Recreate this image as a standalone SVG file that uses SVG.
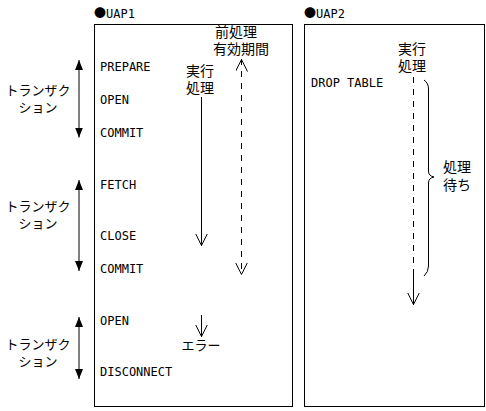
<svg xmlns="http://www.w3.org/2000/svg" width="486" height="411" viewBox="0 0 486 411">
<style>
.box{fill:none;stroke:#000;stroke-width:1}
.cmd{font-family:"DejaVu Sans Mono","Liberation Mono",monospace;font-size:12px;fill:#000}
.jp{font-family:"Liberation Sans","Noto Sans CJK JP",sans-serif;font-size:14px;fill:#000}
.kt{font-family:"Liberation Sans","Noto Sans CJK JP",sans-serif;font-size:13px;fill:#000;text-anchor:middle}
.dot{font-family:"Noto Sans CJK JP",sans-serif}
.ln{stroke:#000;stroke-width:1;fill:none}
.dash{stroke-dasharray:6 6}
</style>
<defs>
<marker id="fa" markerUnits="userSpaceOnUse" markerWidth="12" markerHeight="10" refX="10" refY="4" orient="auto-start-reverse"><path d="M0,0 L10,4 L0,8 z" fill="#000"/></marker>
<marker id="va" markerUnits="userSpaceOnUse" markerWidth="14" markerHeight="14" refX="12.5" refY="6" orient="auto-start-reverse"><path d="M0,0 L12,6 L0,12" fill="none" stroke="#000" stroke-width="1" stroke-dasharray="none"/></marker>
</defs>

<g id="uap1">
<text class="cmd" x="94" y="18"><tspan class="dot">●</tspan>UAP1</text>
<rect class="box" x="94.5" y="24.5" width="198" height="382"/>
<text class="cmd" x="100" y="71">PREPARE</text>
<text class="cmd" x="100" y="104">OPEN</text>
<text class="cmd" x="100" y="137">COMMIT</text>
<text class="cmd" x="100" y="189">FETCH</text>
<text class="cmd" x="100" y="240">CLOSE</text>
<text class="cmd" x="100" y="273">COMMIT</text>
<text class="cmd" x="100" y="325">OPEN</text>
<text class="cmd" x="100" y="376">DISCONNECT</text>
<text class="jp" x="186" y="76">実行</text>
<text class="jp" x="186" y="93">処理</text>
<text class="jp" x="215" y="37">前処理</text>
<text class="jp" x="213" y="54">有効期間</text>
<text class="kt" x="201" y="350">エラー</text>
</g>

<g id="uap2">
<text class="cmd" x="304" y="18"><tspan class="dot">●</tspan>UAP2</text>
<rect class="box" x="304.5" y="24.5" width="180" height="382"/>
<text class="cmd" x="311" y="87">DROP TABLE</text>
<text class="jp" x="398" y="54">実行</text>
<text class="jp" x="398" y="71">処理</text>
<text class="jp" x="443" y="172">処理</text>
<text class="jp" x="443" y="190">待ち</text>
</g>

<g id="tx1">
<text class="kt" x="38" y="95">トランザク</text>
<text class="kt" x="38" y="112">ション</text>
</g>
<g id="tx2">
<text class="kt" x="38" y="211">トランザク</text>
<text class="kt" x="38" y="228">ション</text>
</g>
<g id="tx3">
<text class="kt" x="38" y="349">トランザク</text>
<text class="kt" x="38" y="366">ション</text>
</g>

<g id="connectors">
<line class="ln" x1="79" y1="60" x2="79" y2="137.5" marker-start="url(#fa)" marker-end="url(#fa)"/>
<line class="ln" x1="79" y1="180" x2="79" y2="271" marker-start="url(#fa)" marker-end="url(#fa)"/>
<line class="ln" x1="79" y1="317" x2="79" y2="379" marker-start="url(#fa)" marker-end="url(#fa)"/>
<line class="ln" x1="201.5" y1="97" x2="201.5" y2="246" marker-end="url(#va)"/>
<line class="ln dash" x1="241.5" y1="59" x2="241.5" y2="275" marker-start="url(#va)" marker-end="url(#va)"/>
<line class="ln" x1="201.5" y1="315" x2="201.5" y2="337" marker-end="url(#va)"/>
<line class="ln dash" x1="413.5" y1="77" x2="413.5" y2="272"/>
<line class="ln" x1="413.5" y1="272" x2="413.5" y2="305" marker-end="url(#va)"/>
<path class="ln" d="M424,80 Q428.5,83 428.5,89 L428.5,171 Q428.5,176 434,177 Q428.5,178 428.5,183 L428.5,266 Q428.5,272 424,276"/>
</g>
</svg>
